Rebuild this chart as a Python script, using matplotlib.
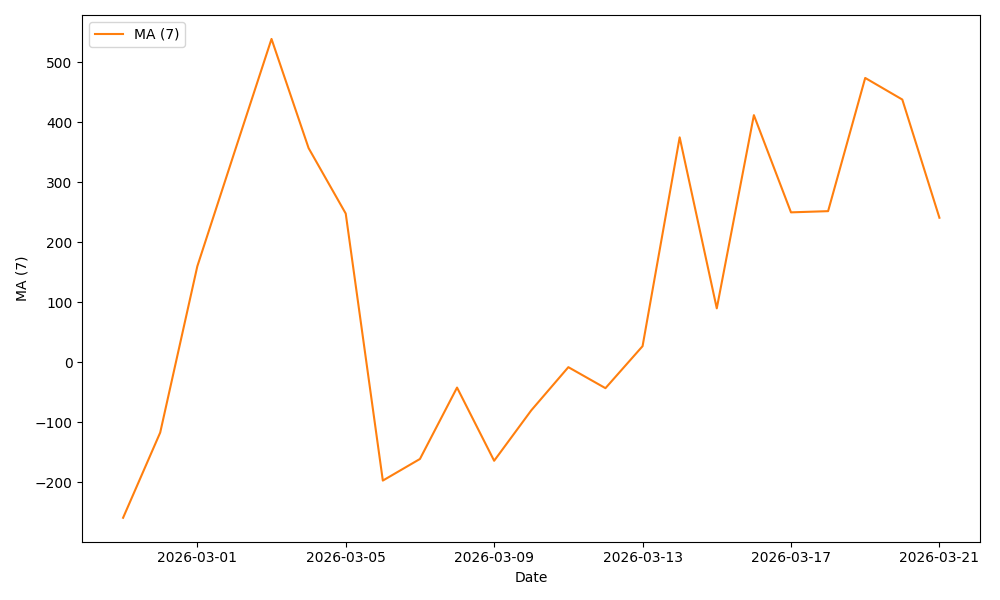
import matplotlib
matplotlib.use("Agg")
import matplotlib.pyplot as plt
import pandas as pd

dates = pd.date_range("2026-02-27", "2026-03-21", freq="D")
ma7 = [-259, -117, 160, 350, 539, 357, 248, -197, -161, -42, -164, -80, -8, -43, 27,
       375, 90, 412, 250, 252, 474, 438, 241]

fig, ax = plt.subplots(figsize=(10, 6), dpi=100)
ax.plot(dates, ma7, color="#ff7f0e", label="MA (7)")
ax.set_xlabel("Date")
ax.set_ylabel("MA (7)")
ax.legend(loc="upper left")
import matplotlib.dates as mdates
ax.xaxis.set_major_locator(mdates.DayLocator(interval=4, bymonthday=None) if False else mdates.AutoDateLocator())
fig.tight_layout()
fig.savefig("out.png")
